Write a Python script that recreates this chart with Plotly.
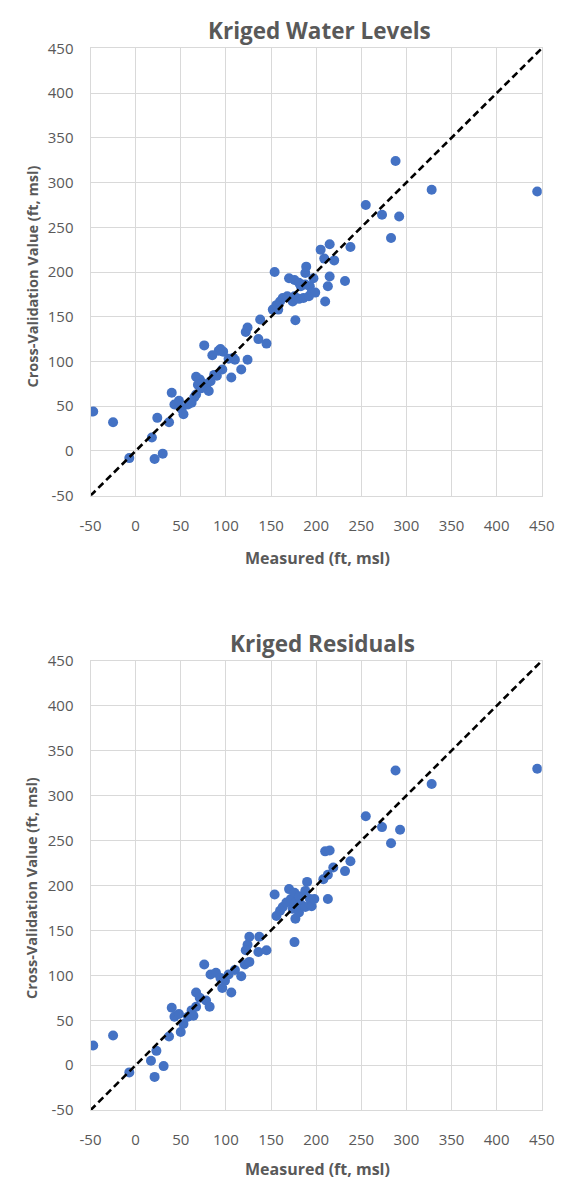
import plotly.graph_objects as go

# ---------------- data ----------------
wl_measured = [-47, -25, -7, 21, 30, 18, 24, 37, 40, 43, 48, 51, 53, 58, 62, 65, 67, 67, 71, 74,
               69, 78, 81, 73, 83, 87, 76, 85, 92, 97, 103, 110, 117, 124, 106, 90, 96, 94, 108,
               122, 124, 136, 145, 138, 154, 152, 158, 156, 160, 163, 168, 170, 174, 176, 176,
               181, 181, 183, 186, 188, 188, 189, 192, 193, 195, 197, 199, 177, 205, 215, 238,
               209, 220, 215, 213, 232, 210, 255, 273, 283, 288, 292, 328, 445]
wl_crossval = [44, 32, -8, -9, -3, 15, 37, 32, 65, 52, 56, 47, 41, 52, 54, 60, 63, 83, 80, 76,
               74, 72, 67, 70, 78, 85, 118, 107, 112, 111, 103, 102, 91, 102, 82, 84, 91, 114, 104,
               133, 138, 125, 120, 147, 200, 158, 158, 163, 167, 171, 173, 193, 167, 191, 173,
               188, 170, 184, 171, 186, 199, 206, 173, 184, 177, 193, 177, 146, 225, 231, 228,
               215, 213, 195, 184, 190, 167, 275, 264, 238, 324, 262, 292, 290]

res_measured = [-47, -25, -7, 17, 21, 31, 23, 37, 40, 43, 48, 50, 53, 58, 62, 64, 67, 67, 71, 78,
                82, 76, 83, 89, 94, 99, 96, 103, 106, 110, 117, 121, 124, 126, 126, 137, 122, 136,
                145, 154, 156, 160, 163, 167, 170, 172, 174, 176, 177, 177, 181, 181, 183, 188,
                188, 190, 193, 195, 176, 198, 208, 210, 215, 213, 213, 219, 232, 238, 255, 273,
                283, 288, 293, 328, 445]
res_crossval = [22, 33, -8, 5, -13, -1, 16, 32, 64, 54, 57, 37, 46, 54, 61, 55, 65, 81, 75, 72,
                65, 112, 101, 103, 97, 94, 86, 101, 81, 106, 99, 112, 134, 143, 115, 143, 128, 126,
                128, 190, 166, 172, 176, 181, 196, 185, 174, 192, 181, 163, 188, 170, 179, 194,
                176, 204, 185, 177, 137, 185, 207, 238, 239, 212, 185, 220, 216, 227, 277, 265,
                247, 328, 262, 313, 330]

one_to_one = [-50, 450]
tick_vals = [-50, 0, 50, 100, 150, 200, 250, 300, 350, 400, 450]
tick_text = ["-50", "0", "50", "100", "150", "200", "250", "300", "350", "400", "450"]

titles = ["Kriged Water Levels", "Kriged Residuals"]
x_title = "Measured (ft, msl)"
y_title = "Cross-Validation Value (ft, msl)"

# ---------------- figure ----------------
W, H = 572, 1186
BLUE = "#4472C4"
GRID = "#D9D9D9"
TXT = "#595959"
FONT = "Open Sans"

fig = go.Figure()

panels = [(wl_measured, wl_crossval, "x", "y"), (res_measured, res_crossval, "x2", "y2")]
for mx, my, xa, ya in panels:
    fig.add_trace(go.Scatter(x=mx, y=my, mode="markers", xaxis=xa, yaxis=ya,
                             marker=dict(color=BLUE, size=10, line=dict(width=0)),
                             showlegend=False, hoverinfo="x+y"))
    fig.add_trace(go.Scatter(x=one_to_one, y=one_to_one, mode="lines", xaxis=xa, yaxis=ya,
                             line=dict(color="black", width=2.6, dash="7px,4px"),
                             showlegend=False, hoverinfo="skip"))

px_left, px_right = 83, 554
top_box = (38, 493)
bot_box = (661, 1118)

def ydom(box):
    return [1 - box[1] / H, 1 - box[0] / H]

axis_common = dict(range=[-50, 450], tickmode="array", tickvals=tick_vals, ticktext=tick_text,
                   showgrid=True, gridcolor=GRID, gridwidth=1, zeroline=False,
                   showline=True, linecolor=GRID, linewidth=1, mirror=True,
                   ticks="outside", tickcolor="rgba(0,0,0,0)",
                   tickfont=dict(family=FONT, size=15, color=TXT), fixedrange=True)

xdom = [px_left / W, px_right / W]
fig.update_layout(
    width=W, height=H, autosize=False,
    margin=dict(l=0, r=0, t=0, b=0),
    paper_bgcolor="white", plot_bgcolor="white",
    xaxis=dict(domain=xdom, anchor="y", ticklen=16, **axis_common),
    yaxis=dict(domain=ydom(top_box), anchor="x", ticklen=13, **axis_common),
    xaxis2=dict(domain=xdom, anchor="y2", ticklen=16, **axis_common),
    yaxis2=dict(domain=ydom(bot_box), anchor="x2", ticklen=13, **axis_common),
)

def ann(text, xpx, ypx, size, angle=0):
    fig.add_annotation(text=f"<b>{text}</b>", x=xpx / W, y=1 - ypx / H, xref="paper", yref="paper",
                       showarrow=False, textangle=angle, xanchor="center", yanchor="middle",
                       font=dict(family=FONT, size=size, color=TXT))

ann(titles[0], 322, 20, 22.5)
ann(x_title, 320, 556, 16)
ann(y_title, 22, 270, 14.5, -90)
ann(titles[1], 325, 643, 22.5)
ann(x_title, 320, 1178, 16)
ann(y_title, 22, 892, 14.5, -90)

# remove the browser's default body margin so the figure fills the window exactly
fig.write_html("out.html", config={"displayModeBar": False},
               post_script="document.body.style.margin='0';")
